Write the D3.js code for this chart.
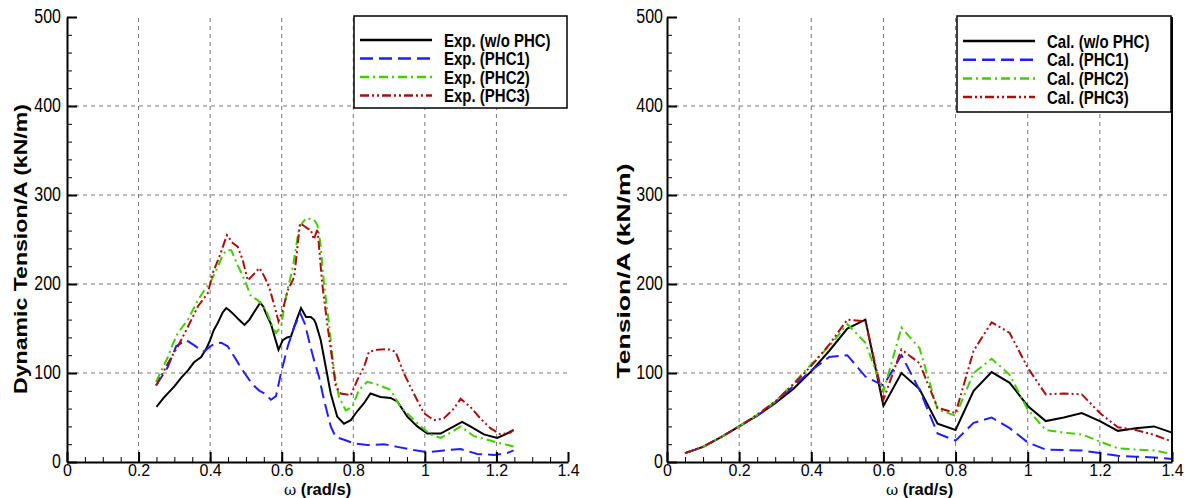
<!DOCTYPE html>
<html>
<head>
<meta charset="utf-8">
<script src="https://cdn.jsdelivr.net/npm/d3@7"></script>
<style>
  body { margin: 0; background: #fff; }
  svg { font-family: "Liberation Sans", Arial, sans-serif; }
</style>
</head>
<body>
<svg id="chart" width="1187" height="498"></svg>
<script>
// Left panel: experiment (each curve has its own x samples)
var expWoX = [0.25, 0.27, 0.30, 0.32, 0.338, 0.355, 0.375, 0.39, 0.40, 0.41, 0.421, 0.435, 0.445, 0.455, 0.468, 0.48, 0.496, 0.51, 0.524, 0.54, 0.548, 0.556, 0.57, 0.58, 0.591, 0.603, 0.615, 0.626, 0.64, 0.654, 0.668, 0.681, 0.69, 0.695, 0.709, 0.723, 0.737, 0.755, 0.774, 0.793, 0.811, 0.83, 0.848, 0.876, 0.904, 0.923, 0.951, 0.979, 1.007, 1.044, 1.081, 1.104, 1.127, 1.165, 1.202, 1.225, 1.248];
var expWoY = [62, 72, 85, 95, 103, 112, 118, 128, 137, 148, 156, 168, 173, 170, 165, 160, 154, 160, 169, 179, 175, 167, 155, 141, 126, 137, 140, 141, 158, 173, 163, 163, 160, 156, 137, 107, 77, 51, 43, 47, 57, 66, 77, 73, 72, 68, 51, 40, 32, 32, 40, 45, 40, 31, 27, 31, 36];

var expP1X = [0.249, 0.265, 0.282, 0.295, 0.305, 0.333, 0.356, 0.37, 0.384, 0.40, 0.415, 0.431, 0.449, 0.468, 0.48, 0.496, 0.51, 0.524, 0.538, 0.552, 0.57, 0.584, 0.598, 0.617, 0.635, 0.652, 0.665, 0.68, 0.69, 0.704, 0.718, 0.737, 0.751, 0.774, 0.802, 0.839, 0.886, 0.923, 0.969, 1.007, 1.053, 1.10, 1.146, 1.193, 1.23, 1.248];
var expP1Y = [86, 96, 107, 120, 130, 137, 131, 127, 124, 130, 133, 134, 130, 118, 110, 100, 92, 85, 80, 77, 70, 74, 100, 130, 152, 167, 155, 130, 115, 96, 70, 40, 28, 25, 21, 19, 20, 17, 13.5, 11, 13, 14.6, 9, 8, 10, 13];

var expP2X = [0.249, 0.265, 0.282, 0.295, 0.31, 0.338, 0.366, 0.384, 0.40, 0.421, 0.435, 0.445, 0.459, 0.477, 0.49, 0.50, 0.514, 0.533, 0.556, 0.57, 0.584, 0.598, 0.612, 0.631, 0.649, 0.668, 0.691, 0.70, 0.708, 0.718, 0.732, 0.746, 0.76, 0.779, 0.797, 0.816, 0.839, 0.867, 0.904, 0.932, 0.96, 0.988, 1.016, 1.044, 1.072, 1.10, 1.137, 1.174, 1.211, 1.248];
var expP2Y = [90, 104, 118, 132, 145, 160, 182, 193, 201, 219, 232, 238, 238, 221, 210, 201, 186, 182, 171, 156, 145, 152, 186, 219, 264, 274, 272, 266, 246, 201, 156, 103, 73, 58, 62, 81, 90, 87, 81, 62, 51, 40, 31, 27, 33, 40, 29, 25, 21, 17.5];

var expP3X = [0.249, 0.265, 0.282, 0.31, 0.338, 0.366, 0.394, 0.407, 0.426, 0.447, 0.463, 0.477, 0.491, 0.505, 0.524, 0.538, 0.552, 0.566, 0.58, 0.591, 0.603, 0.617, 0.635, 0.651, 0.66, 0.673, 0.681, 0.69, 0.70, 0.713, 0.727, 0.741, 0.751, 0.765, 0.793, 0.811, 0.83, 0.844, 0.867, 0.895, 0.918, 0.941, 0.969, 0.997, 1.025, 1.053, 1.081, 1.10, 1.127, 1.155, 1.183, 1.211, 1.239, 1.248];
var expP3Y = [86, 98, 111, 130, 152, 175, 190, 212, 231, 255, 246, 242, 227, 204, 212, 218, 208, 195, 175, 158, 171, 193, 208, 268, 266, 262, 261, 250, 262, 201, 156, 115, 85, 77, 75, 92, 107, 124, 126, 127, 124, 100, 77, 55, 47, 49, 60, 71, 62, 49, 38, 31, 33, 36];

// Right panel: calculation, one shared x grid
var calX = [0.05, 0.1, 0.15, 0.2, 0.25, 0.3, 0.35, 0.4, 0.45, 0.5, 0.55, 0.6, 0.65, 0.7, 0.75, 0.8, 0.85, 0.9, 0.95, 1.0, 1.05, 1.1, 1.15, 1.2, 1.25, 1.3, 1.35, 1.4];
var calWoY = [10, 17, 28, 40, 52, 66, 82, 102, 125, 150, 160, 63, 100, 82, 43, 36, 80, 101, 89, 63, 46, 50, 55, 46, 35, 38, 40, 33];
var calP1Y = [10, 17, 28, 40, 52, 67, 85, 103, 118, 120, 96, 86, 120, 81, 32, 24, 44, 50, 38, 22, 14, 13.5, 13, 10, 7, 6, 5, 3.5];
var calP2Y = [10, 17, 28, 40, 53, 68, 88, 110, 130, 155, 134, 79, 151, 128, 59, 52, 100, 116, 98, 59, 36, 33, 31, 23, 15.4, 14, 13, 9];
var calP3Y = [10, 17, 28, 40, 53, 68, 87, 108, 132, 160, 158, 70, 126.5, 111, 61, 55, 125, 157, 145, 106, 76, 77, 76, 55, 39, 36, 30.5, 23];

var xMajor = [0, 0.2, 0.4, 0.6, 0.8, 1, 1.2, 1.4];
var yMajor = [0, 100, 200, 300, 400, 500];
var expNames = ["Exp. (w/o PHC)", "Exp. (PHC1)", "Exp. (PHC2)", "Exp. (PHC3)"];
var calNames = ["Cal. (w/o PHC)", "Cal. (PHC1)", "Cal. (PHC2)", "Cal. (PHC3)"];

// line looks shared by both panels
var styles = [
    { color: "#000000", dash: null },
    { color: "#2020ff", dash: "13,6" },
    { color: "#44cc00", dash: "9,4,2,4" },
    { color: "#a81010", dash: "9,3,2,3,2,3" }
];

// the original figure is a bit taller than wide, so text gets stretched vertically
var stretch = 1.22;

var svg = d3.select("#chart");

function zip(xs, ys) {
    return xs.map(function (x, i) { return [x, ys[i]]; });
}

function drawPanel(p) {
    var x = d3.scaleLinear().domain([0, 1.4]).range([p.left, p.right]);
    var y = d3.scaleLinear().domain([0, 500]).range([462, 17]);
    var g = svg.append("g");

    // dashed grid at the major ticks
    g.selectAll(".vgrid").data(xMajor.slice(1, -1)).enter().append("line")
        .attr("x1", function (d) { return x(d); }).attr("x2", function (d) { return x(d); })
        .attr("y1", y(0)).attr("y2", y(500))
        .attr("stroke", "#777").attr("stroke-dasharray", "4,4");
    g.selectAll(".hgrid").data(yMajor.slice(1, -1)).enter().append("line")
        .attr("y1", function (d) { return y(d); }).attr("y2", function (d) { return y(d); })
        .attr("x1", x(0)).attr("x2", x(1.4))
        .attr("stroke", "#777").attr("stroke-dasharray", "4,4");

    // curves
    var line = d3.line().x(function (d) { return x(d[0]); }).y(function (d) { return y(d[1]); });
    p.series.forEach(function (s, i) {
        g.append("path")
            .attr("d", line(zip(s.x, s.y)))
            .attr("fill", "none")
            .attr("stroke", styles[i].color)
            .attr("stroke-width", 2)
            .attr("stroke-dasharray", styles[i].dash);
    });

    // minor ticks (inward), then major axes on top
    var xAxisMinor = d3.axisBottom(x).ticks(28).tickSize(-5).tickFormat("");
    g.append("g").attr("transform", "translate(0,462)").call(xAxisMinor)
        .call(function (a) { a.select(".domain").remove(); });
    var yAxisMinor = d3.axisLeft(y).ticks(25).tickSize(-5).tickFormat("");
    g.append("g").attr("transform", "translate(" + p.left + ",0)").call(yAxisMinor)
        .call(function (a) { a.select(".domain").remove(); });

    var xAxis = d3.axisBottom(x).tickValues(xMajor).tickSizeInner(-10).tickSizeOuter(0).tickPadding(3)
        .tickFormat(function (d) { return d3.format("~g")(d); });
    var gx = g.append("g").attr("transform", "translate(0,462)").call(xAxis);
    var yAxis = d3.axisLeft(y).tickValues(yMajor).tickSizeInner(-10).tickSizeOuter(0).tickPadding(p.ypad);
    var gy = g.append("g").attr("transform", "translate(" + p.left + ",0)").call(yAxis);
    [gx, gy].forEach(function (a) {
        a.select(".domain").attr("stroke-width", 2);
        a.selectAll(".tick line").attr("stroke-width", 2);
        a.selectAll("text").attr("font-size", 16).attr("fill", "#000")
            .attr("font-family", "'Liberation Sans', Arial, sans-serif");
    });
    gx.selectAll("text").attr("dy", "0.66em");
    gy.selectAll("text").attr("dy", "0.3em").attr("transform", "scale(1," + stretch + ")");

    if (p.rightBorder) {
        g.append("line").attr("x1", p.right).attr("x2", p.right).attr("y1", 17).attr("y2", 462)
            .attr("stroke", "#000").attr("stroke-width", 2);
    }

    // axis titles
    var xt = g.append("text")
        .attr("x", (p.left + p.right) / 2).attr("y", 495)
        .attr("text-anchor", "middle").attr("font-size", 16.5).attr("font-weight", "bold");
    xt.append("tspan").attr("font-family", "'DejaVu Serif', serif").attr("font-weight", "normal").attr("font-size", 15).text("\u03c9");
    xt.append("tspan").text(" (rad/s)");

    g.append("text")
        .attr("transform", "translate(" + p.titleX + "," + p.titleY + ") rotate(-90)")
        .attr("text-anchor", "middle").attr("font-size", 18).attr("font-weight", "bold")
        .attr("textLength", p.titleLen).attr("lengthAdjust", "spacingAndGlyphs")
        .text(p.yTitle);

    // legend
    var lg = g.append("g");
    lg.append("rect")
        .attr("x", p.legX).attr("y", 16).attr("width", p.right - 1 - p.legX).attr("height", p.legH)
        .attr("fill", "#fff").attr("stroke", "#000").attr("stroke-width", 1.5);
    p.names.forEach(function (n, i) {
        var yy = p.legRow0 + i * p.legStep;
        lg.append("line")
            .attr("x1", p.legX + 6).attr("x2", p.legX + 78).attr("y1", yy).attr("y2", yy)
            .attr("stroke", styles[i].color).attr("stroke-width", 2.5)
            .attr("stroke-dasharray", styles[i].dash);
        lg.append("text")
            .attr("transform", "translate(" + (p.legX + 90) + "," + yy + ") scale(1," + stretch + ")")
            .attr("dy", "0.36em")
            .attr("font-size", 15).attr("font-weight", "bold").text(n);
    });
}

drawPanel({
    left: 67, right: 568, ypad: 6,
    series: [{ x: expWoX, y: expWoY }, { x: expP1X, y: expP1Y }, { x: expP2X, y: expP2Y }, { x: expP3X, y: expP3Y }],
    names: expNames,
    yTitle: "Dynamic Tension/A (kN/m)", titleX: 27, titleY: 249, titleLen: 290,
    legX: 354, legH: 92, legRow0: 40, legStep: 18.5,
    rightBorder: false
});

drawPanel({
    left: 667, right: 1172, ypad: 4,
    series: [{ x: calX, y: calWoY }, { x: calX, y: calP1Y }, { x: calX, y: calP2Y }, { x: calX, y: calP3Y }],
    names: calNames,
    yTitle: "Tension/A (kN/m)", titleX: 630, titleY: 271, titleLen: 215,
    legX: 957, legH: 96, legRow0: 41, legStep: 18.7,
    rightBorder: true
});
</script>
</body>
</html>
